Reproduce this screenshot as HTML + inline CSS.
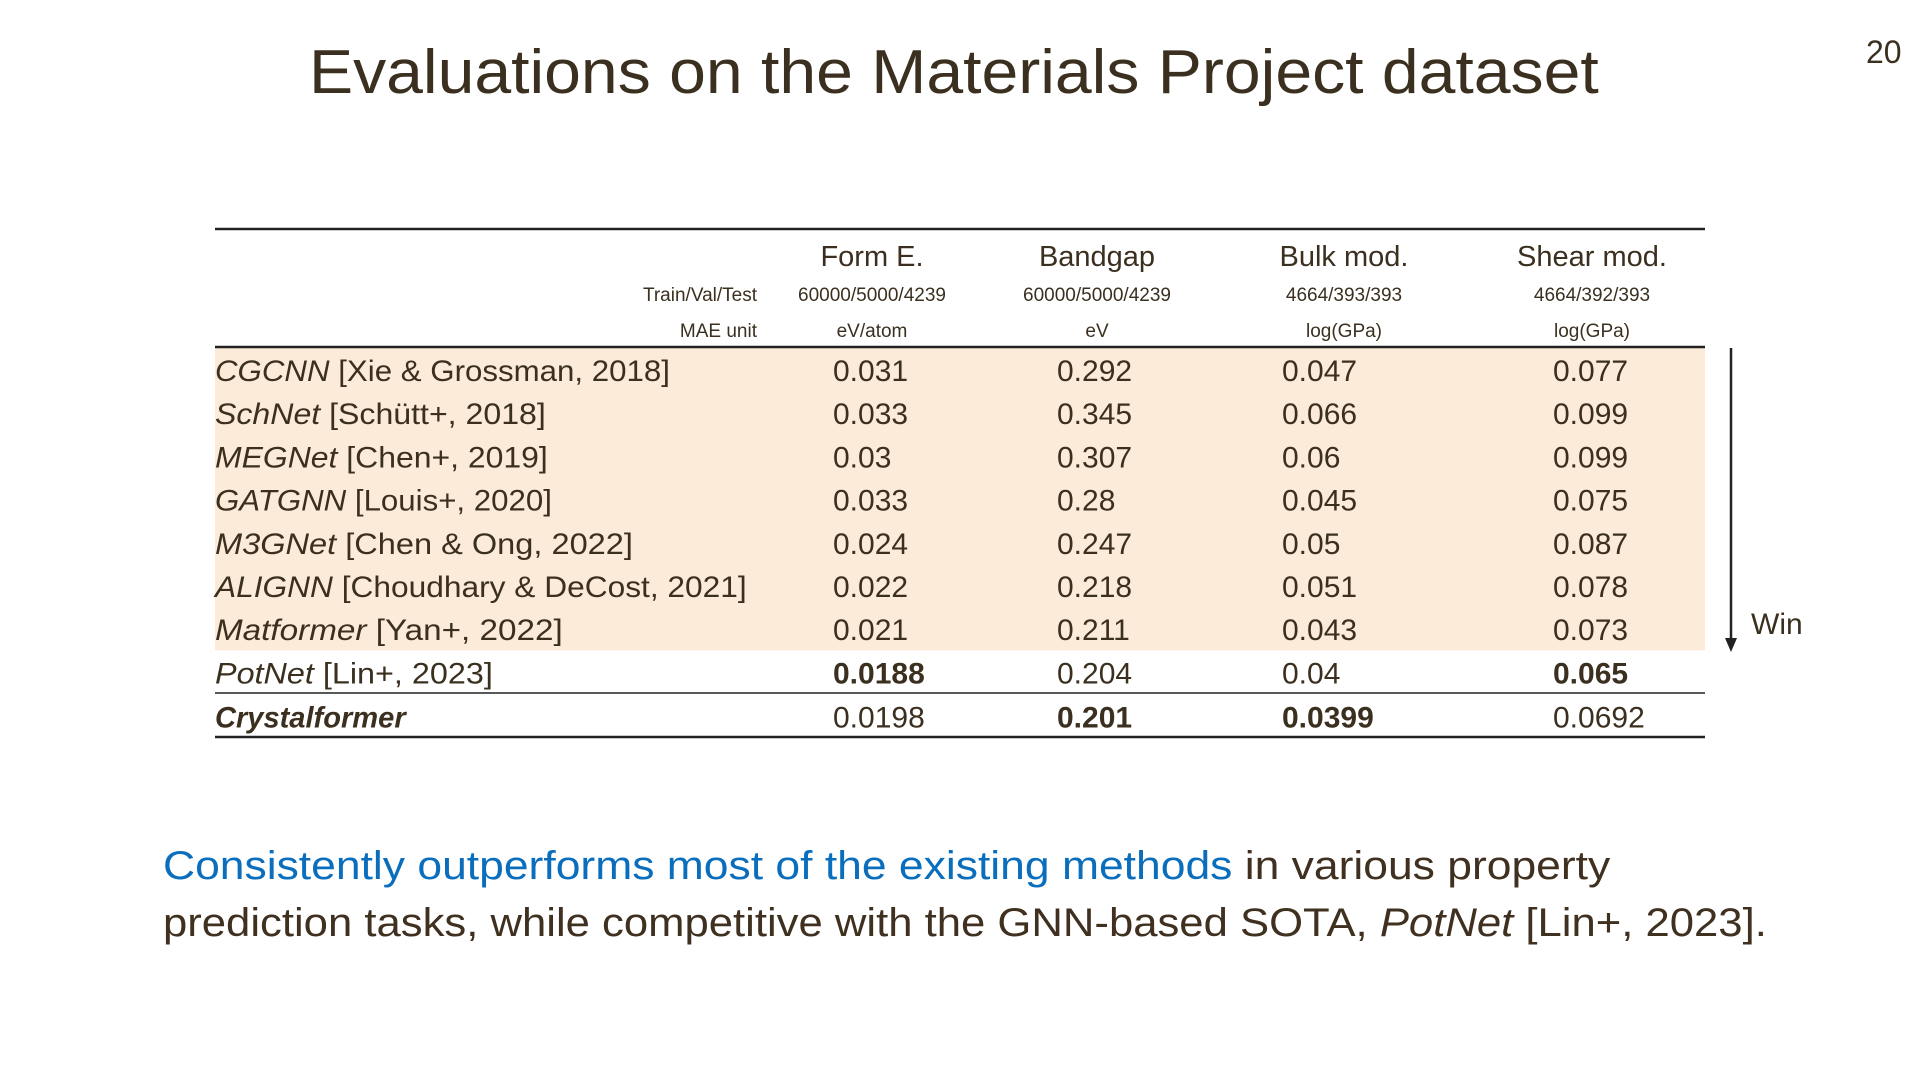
<!DOCTYPE html>
<html><head><meta charset="utf-8"><style>
html,body{margin:0;padding:0;background:#fff;}
svg{display:block;font-family:"Liberation Sans",sans-serif;}
</style></head><body>
<svg id="s" width="1920" height="1080" viewBox="0 0 1920 1080">
<text id="title" x="309" y="93" font-size="62" fill="#3b3020">Evaluations on the Materials Project dataset</text>
<text id="pnum" x="1866" y="63" font-size="32" fill="#3b3020">20</text>
<g id="tbl"></g>
<g>
<line x1="1731" y1="348" x2="1731" y2="640" stroke="#222" stroke-width="2.5"/>
<polygon points="1725,638 1737,638 1731,652" fill="#222"/>
</g>
<text x="1751" y="634" font-size="30" fill="#3b3020">Win</text>
<text id="b1" x="163" y="879" font-size="40" fill="#3f3020"><tspan fill="#0a6ebd">Consistently outperforms most of the existing methods</tspan> in various property</text>
<text id="b2" x="163" y="936" font-size="40" fill="#3f3020">prediction tasks, while competitive with the GNN-based SOTA, <tspan font-style="italic">PotNet</tspan> [Lin+, 2023].</text>
</svg>
<script>
const methods=["CGCNN","SchNet","MEGNet","GATGNN","M3GNet","ALIGNN","Matformer","PotNet","Crystalformer"];
const refs=[" [Xie & Grossman, 2018]"," [Schütt+, 2018]"," [Chen+, 2019]"," [Louis+, 2020]"," [Chen & Ong, 2022]"," [Choudhary & DeCost, 2021]"," [Yan+, 2022]"," [Lin+, 2023]",""];
const properties=["Form E.","Bandgap","Bulk mod.","Shear mod."];
const splits=["60000/5000/4239","60000/5000/4239","4664/393/393","4664/392/393"];
const units=["eV/atom","eV","log(GPa)","log(GPa)"];
const formE=["0.031","0.033","0.03","0.033","0.024","0.022","0.021","0.0188","0.0198"];
const bandgap=["0.292","0.345","0.307","0.28","0.247","0.218","0.211","0.204","0.201"];
const bulk=["0.047","0.066","0.06","0.045","0.05","0.051","0.043","0.04","0.0399"];
const shear=["0.077","0.099","0.099","0.075","0.087","0.078","0.073","0.065","0.0692"];
const best=[[7],[8],[8],[7]];
const labelW=[455,331,333,337,418,534,348,278,193];

const NS="http://www.w3.org/2000/svg";
const g=document.getElementById('tbl');
function mk(tag,attrs,parent){const e=document.createElementNS(NS,tag);for(const k in attrs)e.setAttribute(k,attrs[k]);(parent||g).appendChild(e);return e;}
function fit(el,w){const l=el.getBBox().width;if(!l)return;const ox=+el.getAttribute('x');el.setAttribute('transform',`translate(${ox} 0) scale(${w/l} 1) translate(${-ox} 0)`);}
const L=215,R=1705,rowTop=348,rowH=43.2,base0=381;
const colCenters=[872,1097,1344,1592];
const colLeft=[833,1057,1282,1553];
const cols=[formE,bandgap,bulk,shear];
const shade=mk('rect',{x:L,y:rowTop,width:R-L,height:rowH*7,fill:'#fdebd9'});


[[229,2.5],[347,2.5],[693,1.5],[737,2.5]].forEach(([y,w],i)=>{const ln=mk('line',{x1:L,x2:R,y1:y,y2:y,stroke:'#222','stroke-width':w});

});
properties.forEach((p,i)=>{const t=mk('text',{x:colCenters[i],y:266,'text-anchor':'middle','font-size':29,fill:'#3b3020'});t.textContent=p;


const s=mk('text',{x:colCenters[i],y:301,'text-anchor':'middle','font-size':19,fill:'#3b3020'});s.textContent=splits[i];


const u=mk('text',{x:colCenters[i],y:337,'text-anchor':'middle','font-size':19,fill:'#3b3020'});u.textContent=units[i];

});
const tv=mk('text',{x:757,y:301,'text-anchor':'end','font-size':19,fill:'#3b3020'});tv.textContent="Train/Val/Test";


const mu=mk('text',{x:757,y:337,'text-anchor':'end','font-size':19,fill:'#3b3020'});mu.textContent="MAE unit";


methods.forEach((m,r)=>{const y=base0+r*rowH+(r===8?1:0);
const t=mk('text',{x:L,y:y,'font-size':30,fill:'#3b3020'});


const a=mk('tspan',{'font-style':'italic','font-weight':r===8?'bold':'normal'},t);a.textContent=m;
if(refs[r]){const b=mk('tspan',{},t);b.textContent=refs[r];}
fit(t,labelW[r]);
cols.forEach((c,ci)=>{const v=mk('text',{x:colLeft[ci],y:y,'font-size':30,fill:'#3b3020','font-weight':best[ci].includes(r)?'bold':'normal'});v.textContent=c[r];

});
});
fit(document.getElementById('title'),1290);
fit(document.getElementById('b1'),1448);
fit(document.getElementById('b2'),1604);
</script>
</body></html>
